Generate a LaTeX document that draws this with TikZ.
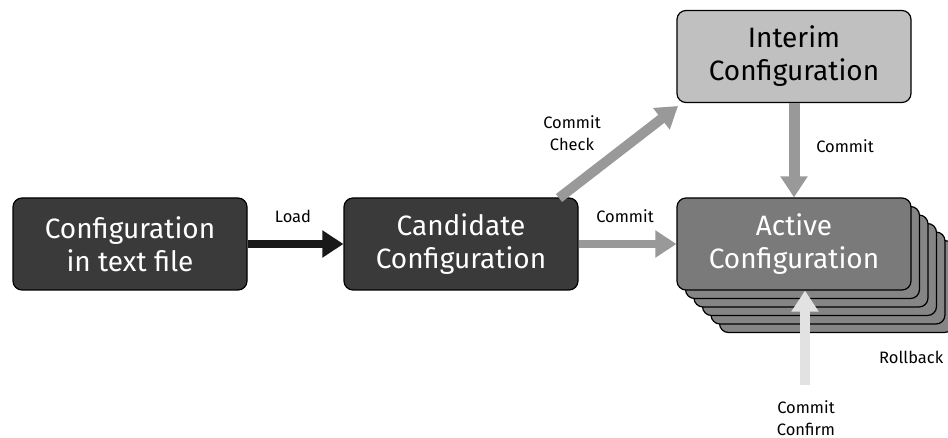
\documentclass[tikz,border=0pt]{standalone}
\usepackage{fontspec}
\setmainfont{Fira Sans}
\usetikzlibrary{arrows.meta}
\definecolor{darkbox}{HTML}{3A3A3A}
\definecolor{activebox}{HTML}{7A7A7A}
\definecolor{layerbox}{HTML}{858585}
\definecolor{interimbox}{HTML}{C0C0C0}
\definecolor{arrowgrey}{HTML}{999999}
\definecolor{arrowlight}{HTML}{E2E2E2}
\tikzset{
  cfgbox/.style={draw=black, line width=1.2pt, rounded corners=9pt, minimum width=234pt, minimum height=92pt, align=center, font=\fontsize{28}{33}\selectfont, inner sep=0pt},
  bigarrow/.style={line width=8pt, -{Triangle[width=26pt,length=21pt]}},
  lbl/.style={font=\fontsize{16.5}{22}\selectfont, align=center, inner sep=0pt}
}
\begin{document}
\begin{tikzpicture}[x=1pt,y=-1pt]
\useasboundingbox (0,0) rectangle (948,438);
% stacked layers behind active
\foreach \k in {5,4,3,2,1}{
  \draw[fill=layerbox, line width=1.2pt, rounded corners=9pt] (677+8.5*\k,198+8.5*\k) rectangle ++(234,92);
}
\node[cfgbox, fill=darkbox, text=white] (file) at (130,244) {Configuration\\in text file};
\node[cfgbox, fill=darkbox, text=white] (cand) at (461,244) {Candidate\\Configuration};
\node[cfgbox, fill=interimbox, text=black] (interim) at (794,56.5) {Interim\\Configuration};
\node[cfgbox, fill=activebox, text=white] (active) at (794,244) {Active\\Configuration};
\coordinate (cc) at (805,385);
\coordinate (chk) at (559,198);
\coordinate (chkend) at (678,106);
% arrows
\draw[bigarrow, draw=black!90, fill=black!90] (file.east) -- (cand.west);
\draw[bigarrow, draw=arrowgrey] (cand.east) -- (active.west);
\draw[bigarrow, draw=arrowgrey, line width=10pt] (chk) -- (chkend);
\draw[bigarrow, draw=arrowgrey, line width=11pt] (interim.south) -- (active.north);
\draw[bigarrow, draw=arrowlight, line width=10pt] (cc) -- (active.south -| cc);
% labels
\node[lbl] (lload) at (293,216) {Load};
\node[lbl] (lcommit) at (625,216) {Commit};
\node[lbl] (lcheck) at (572,133) {Commit\\Check};
\node[lbl] (lcommit2) at (845,146) {Commit};
\node[lbl] (lconfirm) at (806,418) {Commit\\Confirm};
\node[lbl, anchor=west] (lroll) at (879,357) {Rollback};
\end{tikzpicture}
\end{document}
